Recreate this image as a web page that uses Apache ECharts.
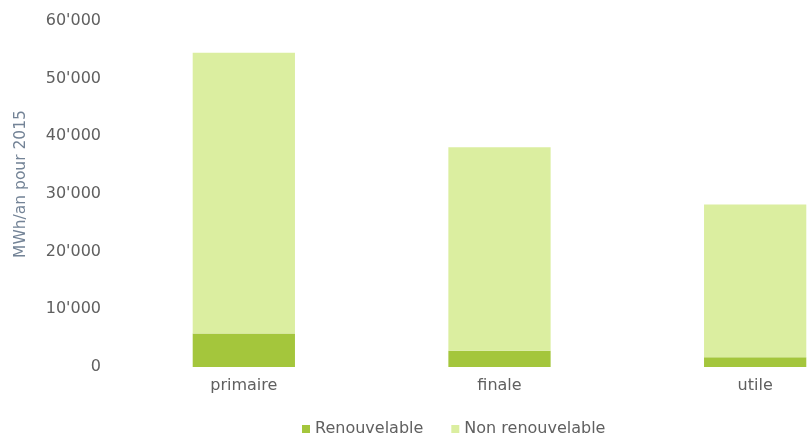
<!DOCTYPE html>
<html>
<head>
<meta charset="utf-8">
<script src="https://cdn.jsdelivr.net/npm/echarts@6/dist/echarts.min.js"></script>
<style>
  html, body { margin: 0; padding: 0; background: #ffffff; overflow: hidden; }
  #chart { width: 809px; height: 435px; }
</style>
</head>
<body>
<div id="chart"></div>
<script>
// Energy per level (MWh/an, 2015)
const categories = ['primaire', 'finale', 'utile'];
const renouvelable = [5800, 2800, 1700];
const nonRenouvelable = [48700, 35300, 26500];
const yTicks = [0, 10000, 20000, 30000, 40000, 50000, 60000];

function fmt(v) {
  return String(v).replace(/\B(?=(\d{3})+(?!\d))/g, "'");
}

const FONT = 'DejaVu Sans, sans-serif';

const chart = echarts.init(document.getElementById('chart'), null, { renderer: 'canvas' });
chart.setOption({
  animation: false,
  textStyle: { fontFamily: FONT },
  grid: {
    left: 116, top: 21, right: -74, bottom: 68,
    containLabel: false,
    outerBoundsMode: 'none'
  },
  legend: {
    top: 416,
    left: 297,
    itemWidth: 8,
    itemHeight: 8,
    itemGap: 28,
    icon: 'rect',
    textStyle: { fontSize: 16, color: '#606060', fontFamily: FONT },
    data: ['Renouvelable', 'Non renouvelable']
  },
  xAxis: {
    type: 'category',
    data: categories,
    axisLine: { show: false },
    axisTick: { show: false },
    axisLabel: { fontSize: 16, color: '#606060', margin: 11, fontFamily: FONT }
  },
  yAxis: {
    type: 'value',
    min: yTicks[0],
    max: yTicks[yTicks.length - 1],
    interval: 10000,
    name: 'MWh/an pour 2015',
    nameLocation: 'middle',
    nameGap: 87,
    nameTextStyle: { fontSize: 15.5, color: '#738396', fontFamily: FONT, padding: [0, 0, 0, 20] },
    axisLine: { show: false },
    axisTick: { show: false },
    splitLine: { show: false },
    axisLabel: { fontSize: 16, color: '#606060', margin: 15, formatter: fmt, fontFamily: FONT }
  },
  series: [
    {
      name: 'Renouvelable',
      type: 'bar',
      stack: 'total',
      barWidth: '40%',
      itemStyle: { color: '#a4c63c' },
      data: renouvelable
    },
    {
      name: 'Non renouvelable',
      type: 'bar',
      stack: 'total',
      barWidth: '40%',
      itemStyle: { color: '#dbeea0' },
      data: nonRenouvelable
    }
  ]
});
</script>
</body>
</html>
